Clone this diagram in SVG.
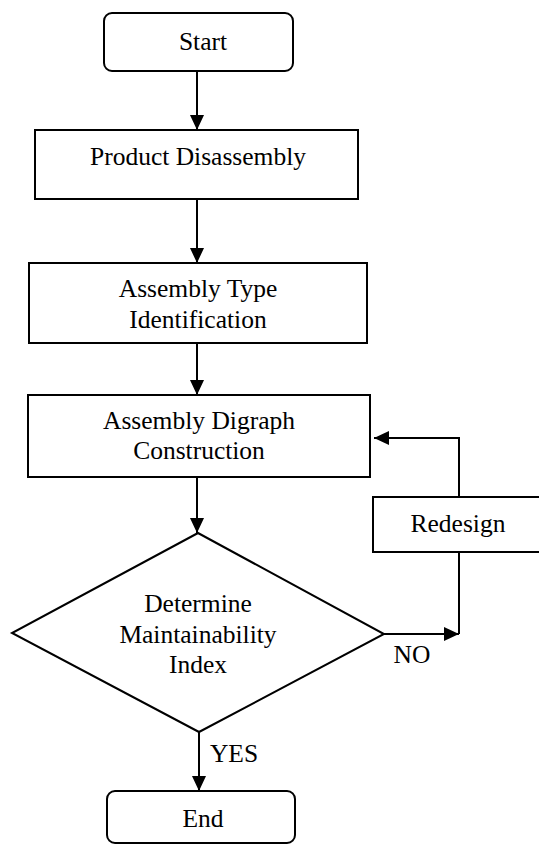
<svg xmlns="http://www.w3.org/2000/svg" width="539" height="845" viewBox="0 0 539 845">
<style>
.box{fill:#fff;stroke:#000;stroke-width:2}
.ln{fill:none;stroke:#000;stroke-width:2}
text{font-family:"Liberation Serif","Times New Roman",serif;font-size:25.5px;fill:#000;text-anchor:middle}
</style>
<defs>
<marker id="ah" markerUnits="userSpaceOnUse" markerWidth="15" markerHeight="14" refX="15" refY="7" orient="auto">
<path d="M0,0 L15,7 L0,14 z" fill="#000"/>
</marker>
</defs>
<rect width="539" height="845" fill="#fff"/>
<g id="connectors">
<path class="ln" d="M197,71 V130" marker-end="url(#ah)"/>
<path class="ln" d="M197,199 V263" marker-end="url(#ah)"/>
<path class="ln" d="M197,343 V395" marker-end="url(#ah)"/>
<path class="ln" d="M197,477 V533" marker-end="url(#ah)"/>
<path class="ln" d="M199,732 V791" marker-end="url(#ah)"/>
<path class="ln" d="M384,634 H459" marker-end="url(#ah)"/>
<path class="ln" d="M459,634 V552"/>
<path class="ln" d="M459,497 V438 H374" marker-end="url(#ah)"/>
</g>
<g id="start">
<rect class="box" x="104" y="13" width="189" height="58" rx="8"/>
<text x="203" y="50">Start</text>
</g>
<g id="disassembly">
<rect class="box" x="35" y="130" width="323" height="69"/>
<text x="198" y="165">Product Disassembly</text>
</g>
<g id="type">
<rect class="box" x="29" y="263" width="338" height="80"/>
<text x="198" y="297">Assembly Type</text>
<text x="198" y="328">Identification</text>
</g>
<g id="digraph">
<rect class="box" x="28" y="395" width="342" height="82"/>
<text x="199" y="429">Assembly Digraph</text>
<text x="199" y="459">Construction</text>
</g>
<g id="decision">
<polygon class="box" points="198,533 384,634 199,732 12,633"/>
<text x="198" y="612">Determine</text>
<text x="198" y="643">Maintainability</text>
<text x="198" y="673">Index</text>
</g>
<g id="redesign">
<rect class="box" x="373" y="497" width="180" height="55"/>
<text x="458" y="532">Redesign</text>
</g>
<g id="labels">
<text x="412" y="663">NO</text>
<text x="234" y="762">YES</text>
</g>
<g id="end">
<rect class="box" x="107" y="791" width="188" height="52" rx="8"/>
<text x="203" y="827">End</text>
</g>
</svg>
